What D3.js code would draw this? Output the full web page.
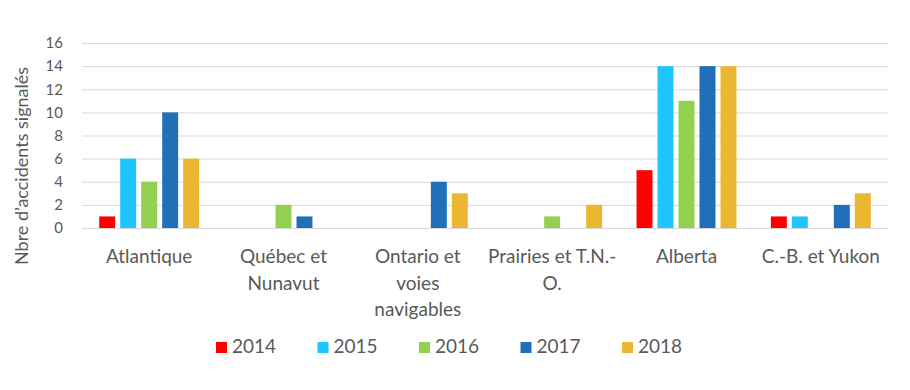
<!DOCTYPE html>
<html>
<head>
<meta charset="utf-8">
<script src="https://cdn.jsdelivr.net/npm/d3@7"></script>
<style>
  body { margin: 0; background: #fff; }
  text { font-family: Lato, "Open Sans", sans-serif; fill: #595959; }
</style>
</head>
<body>
<div id="chart"></div>
<script>
// data
var categories = ["Atlantique", "Québec et Nunavut", "Ontario et voies navigables",
                  "Prairies et T.N.-O.", "Alberta", "C.-B. et Yukon"];
// how Excel wrapped the category labels
var categoryLines = [["Atlantique"], ["Québec et", "Nunavut"], ["Ontario et", "voies", "navigables"],
                     ["Prairies et T.N.-", "O."], ["Alberta"], ["C.-B. et Yukon"]];
var years = ["2014", "2015", "2016", "2017", "2018"];
var v2014 = [1, 0, 0, 0, 5, 1];
var v2015 = [6, 0, 0, 0, 14, 1];
var v2016 = [4, 2, 0, 1, 11, 0];
var v2017 = [10, 1, 4, 0, 14, 2];
var v2018 = [6, 0, 3, 2, 14, 3];
var yTicks = [0, 2, 4, 6, 8, 10, 12, 14, 16];
var colors = ["#ff0000", "#1fc5ff", "#92d050", "#1f70b8", "#ebb731"];

var series = [v2014, v2015, v2016, v2017, v2018];

var width = 910, height = 390;
var margin = {top: 43, right: 22, bottom: 162, left: 82};

var svg = d3.select("#chart").append("svg")
    .attr("width", width)
    .attr("height", height);

var x0 = d3.scaleBand()
    .domain(categories)
    .range([margin.left, width - margin.right]);

var x1 = d3.scaleBand()
    .domain(years)
    .range([0, x0.bandwidth()])
    .paddingInner(0.24)
    .paddingOuter(0.82);

var y = d3.scaleLinear()
    .domain([0, 16])
    .range([height - margin.bottom, margin.top]);

// gridlines
svg.append("g")
    .selectAll("line")
    .data(yTicks)
    .join("line")
    .attr("x1", margin.left)
    .attr("x2", width - margin.right)
    .attr("y1", function(d) { return y(d) + 0.5; })
    .attr("y2", function(d) { return y(d) + 0.5; })
    .attr("stroke", "#d9d9d9")
    .attr("stroke-width", 1);

// y axis labels
var yAxis = svg.append("g")
    .attr("transform", "translate(" + (margin.left - 19) + ",0)")
    .call(d3.axisLeft(y).tickValues(yTicks).tickSize(0).tickPadding(0));
yAxis.select(".domain").remove();
yAxis.selectAll("text")
    .style("font-size", "15px")
    .style("fill", "#595959")
    .style("font-family", "Lato, 'Open Sans', sans-serif");

// bars
var groups = svg.append("g")
    .selectAll("g")
    .data(categories)
    .join("g")
    .attr("transform", function(d) { return "translate(" + x0(d) + ",0)"; });

groups.selectAll("rect")
    .data(function(d, i) {
        return years.map(function(yr, j) { return {year: yr, value: series[j][i], color: colors[j]}; });
    })
    .join("rect")
    .filter(function(d) { return d.value > 0; })
    .attr("x", function(d) { return x1(d.year); })
    .attr("width", x1.bandwidth())
    .attr("y", function(d) { return y(d.value); })
    .attr("height", function(d) { return y(0) - y(d.value); })
    .attr("fill", function(d) { return d.color; });

// category labels
var catLabels = svg.append("g")
    .selectAll("text")
    .data(categories)
    .join("text")
    .attr("text-anchor", "middle")
    .attr("x", function(d) { return x0(d) + x0.bandwidth() / 2; })
    .attr("y", 263)
    .style("font-size", "19px");

catLabels.each(function(d, i) {
    var t = d3.select(this);
    categoryLines[i].forEach(function(line, k) {
        t.append("tspan")
            .attr("x", x0(d) + x0.bandwidth() / 2)
            .attr("dy", k === 0 ? 0 : 26.7)
            .text(line);
    });
});

// y axis title
svg.append("text")
    .attr("transform", "translate(28,166) rotate(-90)")
    .attr("text-anchor", "middle")
    .style("font-size", "18px")
    .text("Nbre d’accidents signalés");

// legend
var legend = svg.append("g")
    .selectAll("g")
    .data(years)
    .join("g")
    .attr("transform", function(d, i) { return "translate(" + (216 + i * 101.5) + ",342)"; });

legend.append("rect")
    .attr("width", 11)
    .attr("height", 11)
    .attr("fill", function(d, i) { return colors[i]; });

legend.append("text")
    .attr("x", 16)
    .attr("y", 11)
    .style("font-size", "19px")
    .text(function(d) { return d; });
</script>
</body>
</html>
